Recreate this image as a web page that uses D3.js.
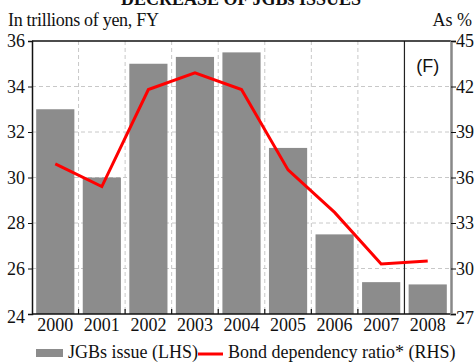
<!DOCTYPE html>
<html>
<head>
<meta charset="utf-8">
<script src="https://cdn.jsdelivr.net/npm/d3@7"></script>
<style>
  body { margin: 0; background: #fff; }
  svg { display: block; }
  text { font-family: "Liberation Serif", "Times New Roman", serif; fill: #111; }
</style>
</head>
<body>
<svg id="chart" width="475" height="363"></svg>
<script>
// data
const years = ['2000', '2001', '2002', '2003', '2004', '2005', '2006', '2007', '2008'];
const jgbIssue = [33.0, 30.0, 35.0, 35.3, 35.5, 31.3, 27.5, 25.4, 25.3];
const bondRatio = [36.9, 35.4, 41.8, 42.9, 41.8, 36.5, 33.7, 30.3, 30.5];
const leftTicks = [24, 26, 28, 30, 32, 34, 36];
const rightTicks = [27, 30, 33, 36, 39, 42, 45];

const svg = d3.select('#chart');
const m = { left: 32, right: 451, top: 41, bottom: 314 };

const x = d3.scaleBand().domain(years).range([m.left, m.right]).paddingInner(0.18).paddingOuter(0.09);
const yL = d3.scaleLinear().domain([24, 36]).range([m.bottom, m.top]);
const yR = d3.scaleLinear().domain([27, 45]).range([m.bottom, m.top]);
const step = x.step();
const bound = i => m.left + step * i;

// title (cut off at the top, as in the source) and unit captions
svg.append('text').attr('x', 241).attr('y', 5).attr('text-anchor', 'middle')
    .style('font-weight', 'bold').style('font-size', '18px').text('DECREASE OF JGBs ISSUES');
svg.append('text').attr('x', 8).attr('y', 26).style('font-size', '18px').style('letter-spacing', '-0.3px')
    .text('In trillions of yen, FY');
svg.append('text').attr('x', 472).attr('y', 26).attr('text-anchor', 'end').style('font-size', '18px').text('As %');

// gridlines
svg.append('g').selectAll('line').data(leftTicks.slice(1, -1)).join('line')
    .attr('x1', m.left).attr('x2', m.right).attr('y1', d => yL(d)).attr('y2', d => yL(d))
    .attr('stroke', '#c8c8c8').attr('stroke-dasharray', '4,3');
svg.append('g').selectAll('line').data(d3.range(1, 8)).join('line')
    .attr('x1', d => bound(d)).attr('x2', d => bound(d)).attr('y1', m.top).attr('y2', m.bottom)
    .attr('stroke', '#c8c8c8').attr('stroke-dasharray', '4,3');

// bars
svg.append('g').selectAll('rect').data(jgbIssue).join('rect')
    .attr('x', (d, i) => x(years[i])).attr('width', x.bandwidth())
    .attr('y', d => yL(d)).attr('height', d => yL(24) - yL(d))
    .attr('fill', '#8c8c8c');

// forecast divider
svg.append('line').attr('x1', bound(8)).attr('x2', bound(8)).attr('y1', m.top).attr('y2', m.bottom)
    .attr('stroke', '#222').attr('stroke-width', 1.2);
svg.append('text').attr('x', (bound(8) + m.right) / 2).attr('y', 72).attr('text-anchor', 'middle')
    .style('font-family', '"Liberation Sans", Arial, sans-serif').style('font-size', '18px').text('(F)');

// ratio line
const line = d3.line().x((d, i) => x(years[i]) + x.bandwidth() / 2).y(d => yR(d));
svg.append('path').datum(bondRatio).attr('d', line)
    .attr('fill', 'none').attr('stroke', '#ff0000').attr('stroke-width', 3);

// frame
svg.append('line').attr('x1', m.left).attr('x2', m.right).attr('y1', m.top).attr('y2', m.top).attr('stroke', '#111').attr('stroke-width', 1.5);
svg.append('line').attr('x1', m.left).attr('x2', m.right).attr('y1', m.bottom).attr('y2', m.bottom).attr('stroke', '#111').attr('stroke-width', 1.5);

// left axis
const axL = svg.append('g').attr('transform', `translate(${m.left},0)`)
    .call(d3.axisLeft(yL).tickValues(leftTicks).tickSize(4).tickPadding(3));
axL.select('.domain').attr('stroke', '#111').attr('stroke-width', 1.5);
axL.selectAll('.tick line').attr('stroke', '#111');
axL.selectAll('text').style('font-size', '18px').style('font-family', '"Liberation Serif", serif').attr('fill', '#111');

// right axis
const axR = svg.append('g').attr('transform', `translate(${m.right},0)`)
    .call(d3.axisRight(yR).tickValues(rightTicks).tickSize(5).tickPadding(0));
axR.select('.domain').attr('stroke', '#888').attr('stroke-width', 2.5);
axR.selectAll('.tick line').attr('stroke', '#111');
axR.selectAll('text').style('font-size', '18px').style('font-family', '"Liberation Serif", serif').attr('fill', '#111');
axR.selectAll('.tick').filter(d => d === 27).select('text').attr('dy', '0.5em');
axL.selectAll('.tick').filter(d => d === 24).select('text').attr('dy', '0.45em');

// bottom ticks at category boundaries (inward)
svg.append('g').selectAll('line').data(d3.range(1, 8)).join('line')
    .attr('x1', d => bound(d)).attr('x2', d => bound(d)).attr('y1', m.bottom).attr('y2', m.bottom - 5)
    .attr('stroke', '#111').attr('stroke-width', 1.2);

// year labels
svg.append('g').selectAll('text').data(years).join('text')
    .attr('x', d => x(d) + x.bandwidth() / 2).attr('y', 331).attr('text-anchor', 'middle')
    .style('font-size', '18px').text(d => d);

// legend
const lg = svg.append('g');
lg.append('rect').attr('x', 36).attr('y', 349).attr('width', 27).attr('height', 8).attr('fill', '#8c8c8c');
lg.append('text').attr('x', 68).attr('y', 358).style('font-size', '18px').text('JGBs issue (LHS)');
lg.append('line').attr('x1', 198).attr('x2', 223).attr('y1', 354).attr('y2', 354).attr('stroke', '#ff0000').attr('stroke-width', 3);
lg.append('text').attr('x', 228).attr('y', 358).style('font-size', '18px').text('Bond dependency ratio* (RHS)');
</script>
</body>
</html>
